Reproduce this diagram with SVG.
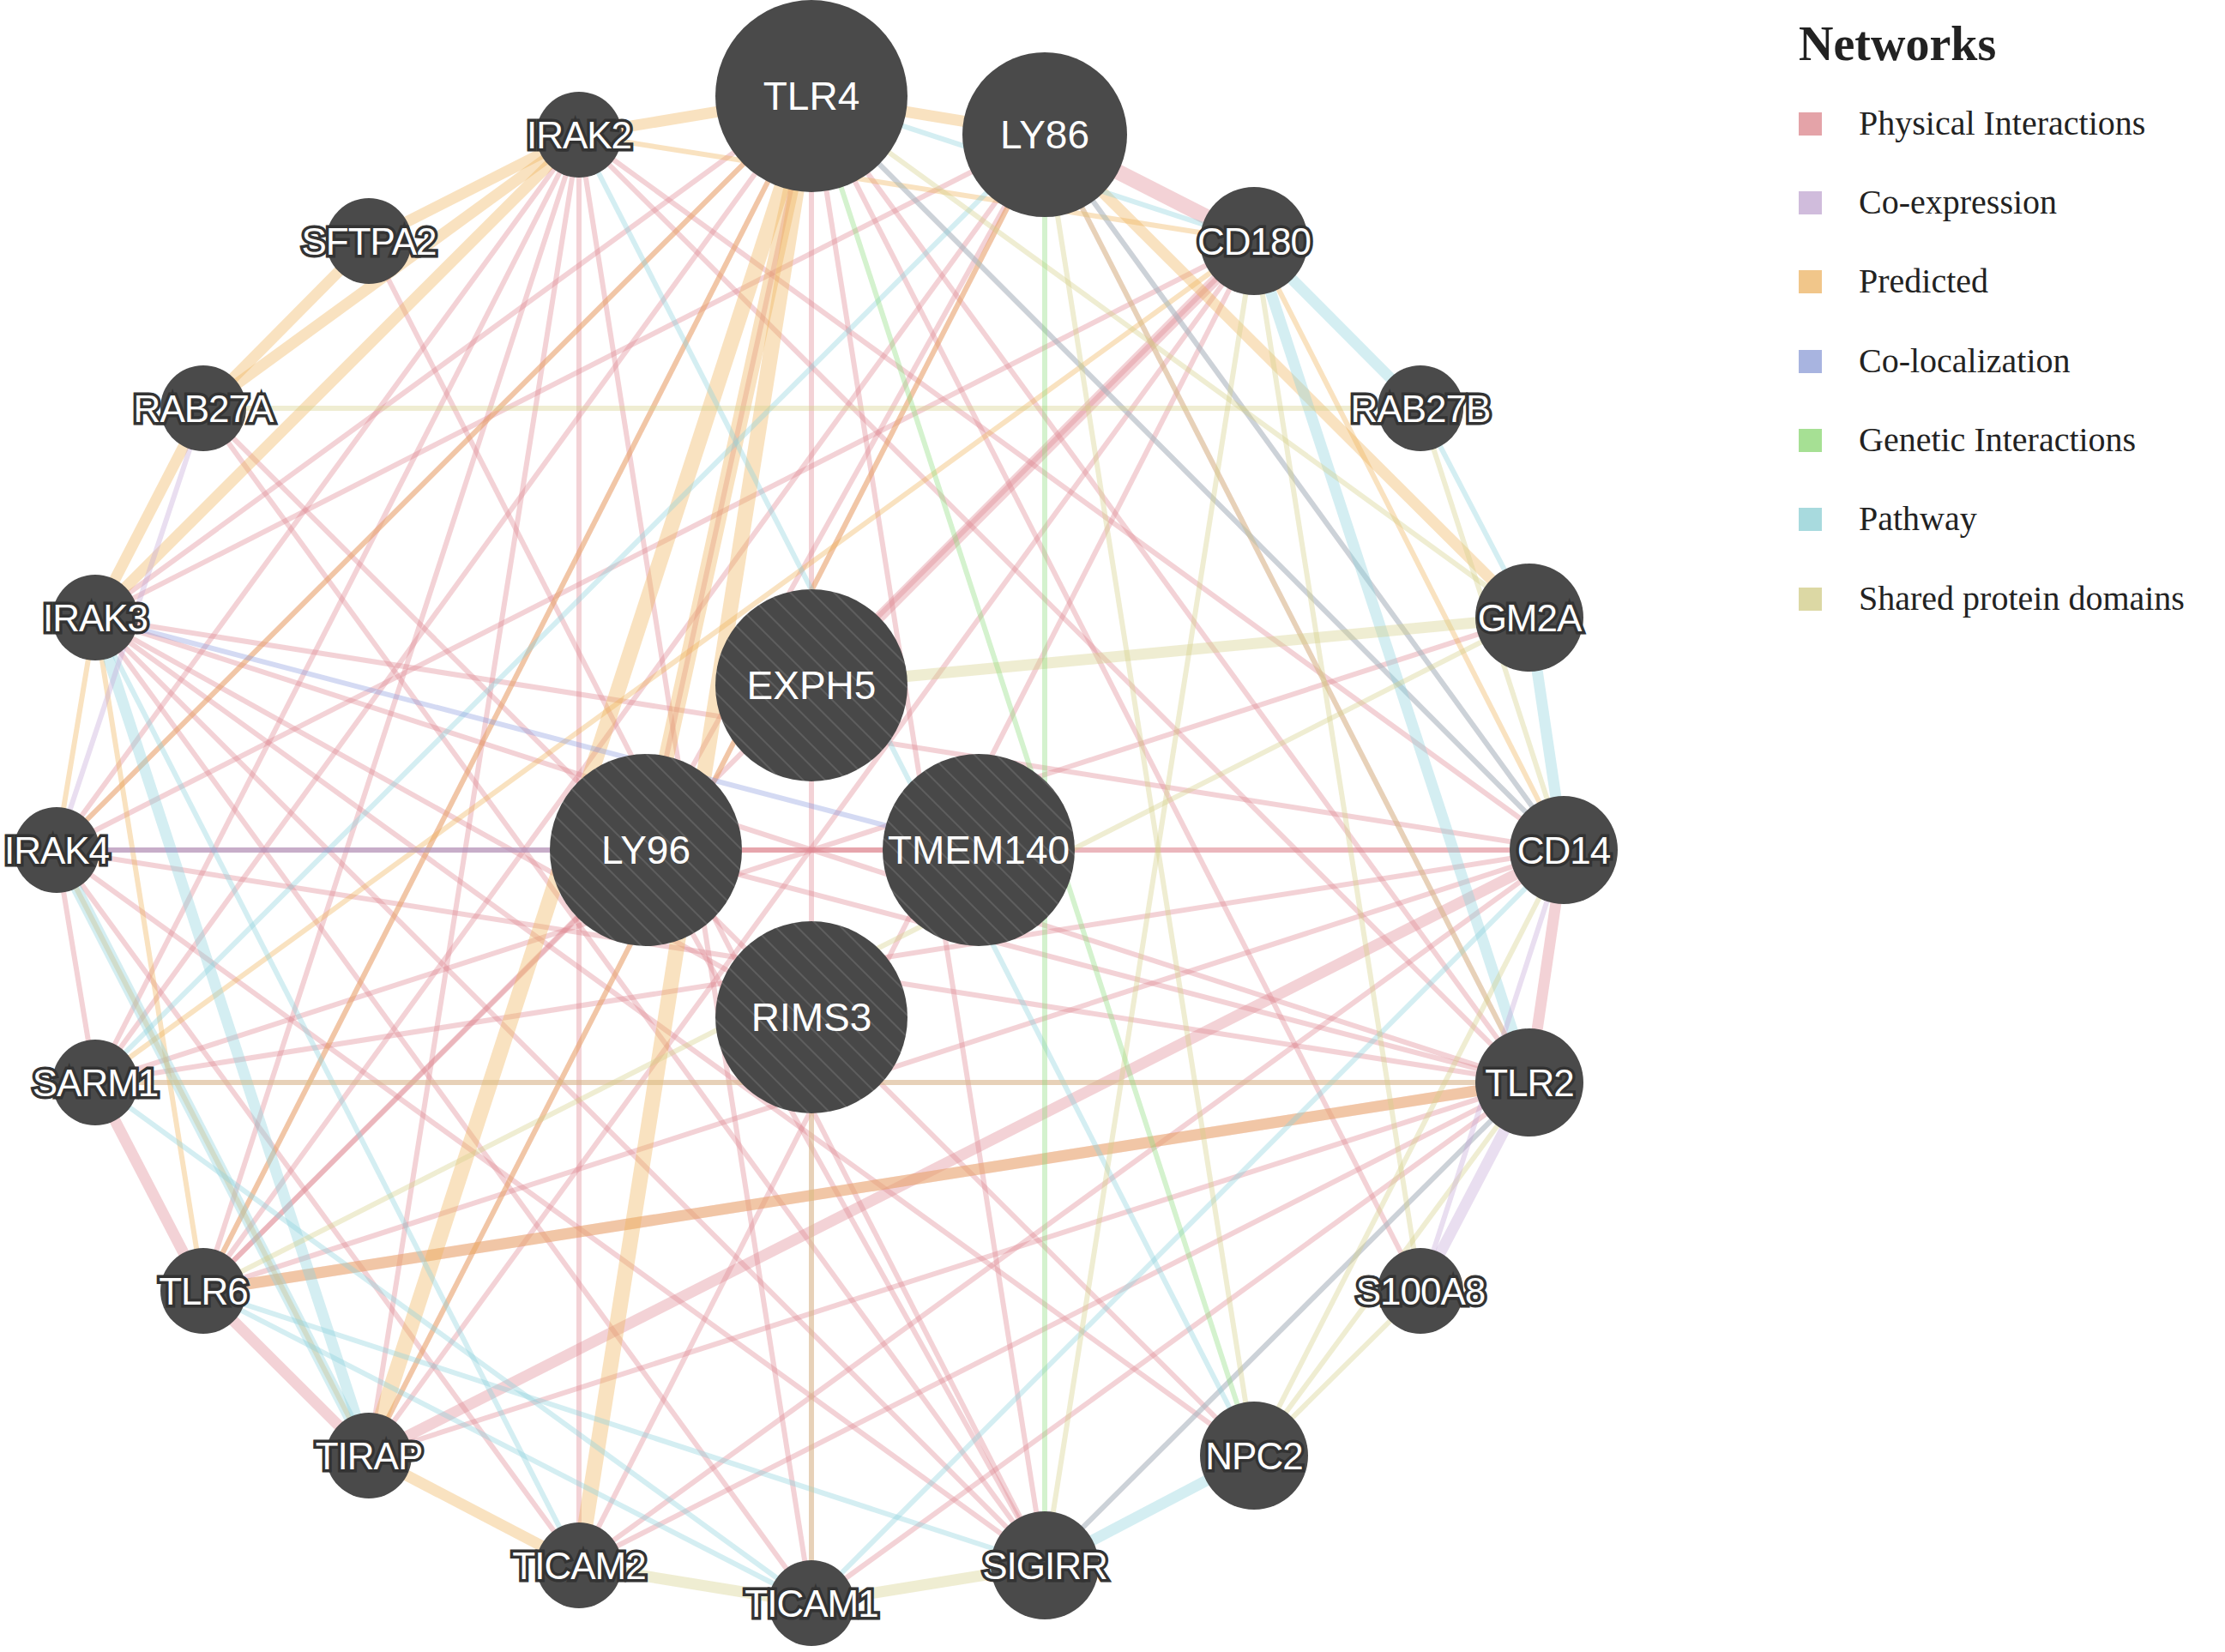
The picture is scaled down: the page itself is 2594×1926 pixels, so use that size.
<svg xmlns="http://www.w3.org/2000/svg" width="2594" height="1926" viewBox="0 0 2594 1926">
<defs>
<pattern id="hatch" width="18" height="18" patternUnits="userSpaceOnUse" patternTransform="rotate(-45)">
<rect width="18" height="18" fill="#484848"/>
<line x1="0" y1="0" x2="0" y2="18" stroke="#5e5e5e" stroke-width="4"/>
</pattern>
</defs>
<style>
.e line{stroke-opacity:0.38;stroke-width:6;fill:none}
.p{stroke:#e08a94}.r{stroke:#f0b45a}.w{stroke:#8fd2dc}.s{stroke:#d6d08a}.c{stroke:#c4a8d8}.g{stroke:#8edc7e}.l{stroke:#8e9ee0}
.t8{stroke-width:13 !important}.t12{stroke-width:18 !important}
.n circle{fill:#4a4a4a}
.n text{font-family:"Liberation Sans",Arial,sans-serif;font-size:44px;fill:#fff;stroke:#333;stroke-width:7;paint-order:stroke;text-anchor:middle;dominant-baseline:central;letter-spacing:-1px}
.n.big text{font-size:46px;stroke-width:0;letter-spacing:0}
.lg text{font-family:"Liberation Serif","Times New Roman",serif;font-size:40px;fill:#222}
</style>
<rect width="2594" height="1926" fill="#fff"/>
<g id="connectors" class="e">
<line class="r t8" x1="946" y1="112" x2="675" y2="157"/><line class="r t8" x1="675" y1="157" x2="430" y2="281"/><line class="r t8" x1="430" y1="281" x2="237" y2="476"/><line class="r t8" x1="237" y1="476" x2="111" y2="720"/><line class="r" x1="111" y1="720" x2="66" y2="991"/><line class="p" x1="66" y1="991" x2="111" y2="1262"/><line class="p t8" x1="111" y1="1262" x2="237" y2="1505"/><line class="p t8" x1="237" y1="1505" x2="430" y2="1697"/><line class="r t8" x1="430" y1="1697" x2="675" y2="1825"/><line class="s t8" x1="675" y1="1825" x2="946" y2="1869"/><line class="s t8" x1="946" y1="1869" x2="1218" y2="1825"/><line class="w t8" x1="1218" y1="1825" x2="1462" y2="1697"/><line class="s" x1="1462" y1="1697" x2="1656" y2="1505"/><line class="c t8" x1="1656" y1="1505" x2="1783" y2="1262"/><line class="p t8" x1="1783" y1="1262" x2="1823" y2="991"/><line class="w t8" x1="1823" y1="991" x2="1783" y2="720"/><line class="w" x1="1783" y1="720" x2="1656" y2="476"/><line class="w t8" x1="1656" y1="476" x2="1462" y2="281"/><line class="p t12" x1="1462" y1="281" x2="1218" y2="157"/><line class="r t8" x1="1218" y1="157" x2="946" y2="112"/>
<line class="p" x1="946" y1="112" x2="753" y2="991"/><line class="p" x1="946" y1="112" x2="1823" y2="991"/><line class="p" x1="946" y1="112" x2="1783" y2="1262"/><line class="p" x1="946" y1="112" x2="237" y2="1505"/><line class="p" x1="946" y1="112" x2="111" y2="720"/><line class="p" x1="946" y1="112" x2="66" y2="991"/><line class="p" x1="946" y1="112" x2="111" y2="1262"/><line class="p" x1="946" y1="112" x2="946" y2="1869"/><line class="p" x1="946" y1="112" x2="1218" y2="1825"/><line class="p" x1="946" y1="112" x2="1656" y2="1505"/>
<line class="p" x1="1218" y1="157" x2="753" y2="991"/><line class="p" x1="1218" y1="157" x2="1823" y2="991"/><line class="p" x1="1218" y1="157" x2="1783" y2="1262"/><line class="p" x1="1218" y1="157" x2="430" y2="1697"/><line class="p" x1="1218" y1="157" x2="111" y2="720"/><line class="p" x1="1218" y1="157" x2="237" y2="1505"/>
<line class="p" x1="675" y1="157" x2="66" y2="991"/><line class="p" x1="675" y1="157" x2="111" y2="1262"/><line class="p" x1="675" y1="157" x2="430" y2="1697"/><line class="p" x1="675" y1="157" x2="1783" y2="1262"/><line class="p" x1="675" y1="157" x2="1823" y2="991"/><line class="p" x1="675" y1="157" x2="675" y2="1825"/><line class="p" x1="675" y1="157" x2="946" y2="1869"/><line class="p" x1="675" y1="157" x2="237" y2="1505"/>
<line class="p" x1="111" y1="720" x2="1783" y2="1262"/><line class="p" x1="111" y1="720" x2="1823" y2="991"/><line class="p" x1="66" y1="991" x2="1783" y2="1262"/><line class="p" x1="66" y1="991" x2="1823" y2="991"/><line class="p" x1="66" y1="991" x2="675" y2="1825"/><line class="p" x1="66" y1="991" x2="1218" y2="1825"/>
<line class="p" x1="111" y1="1262" x2="1783" y2="1262"/><line class="p" x1="111" y1="1262" x2="1823" y2="991"/><line class="p t8" x1="237" y1="1505" x2="1783" y2="1262"/><line class="p" x1="237" y1="1505" x2="1823" y2="991"/><line class="p" x1="430" y1="1697" x2="1783" y2="1262"/><line class="p t8" x1="430" y1="1697" x2="1823" y2="991"/>
<line class="p" x1="675" y1="1825" x2="1783" y2="1262"/><line class="p" x1="946" y1="1869" x2="1783" y2="1262"/><line class="p" x1="1218" y1="1825" x2="1783" y2="1262"/><line class="p" x1="237" y1="476" x2="1218" y2="1825"/><line class="p" x1="237" y1="476" x2="1462" y2="1697"/><line class="p" x1="111" y1="720" x2="1462" y2="1697"/><line class="p" x1="111" y1="720" x2="946" y2="1869"/><line class="p" x1="111" y1="720" x2="1218" y2="1825"/>
<line class="p" x1="753" y1="991" x2="1783" y2="1262"/><line class="p" x1="753" y1="991" x2="1823" y2="991"/><line class="p" x1="753" y1="991" x2="237" y2="1505"/><line class="p" x1="430" y1="281" x2="1218" y2="1825"/><line class="p" x1="1462" y1="281" x2="237" y2="1505"/><line class="p" x1="1462" y1="281" x2="430" y2="1697"/><line class="p t8" x1="946" y1="799" x2="1462" y2="281"/><line class="p" x1="1141" y1="991" x2="66" y2="991"/><line class="p" x1="946" y1="1186" x2="111" y2="720"/><line class="p" x1="753" y1="991" x2="1218" y2="1825"/><line class="p" x1="1823" y1="991" x2="675" y2="1825"/><line class="p" x1="1462" y1="281" x2="675" y2="1825"/><line class="p" x1="1462" y1="281" x2="66" y2="991"/><line class="p" x1="1783" y1="720" x2="111" y2="1262"/>
<line class="r t12" x1="946" y1="112" x2="430" y2="1697"/><line class="r t12" x1="946" y1="112" x2="675" y2="1825"/><line class="r t8" x1="675" y1="157" x2="237" y2="476"/><line class="r t8" x1="675" y1="157" x2="111" y2="720"/><line class="r t8" x1="1218" y1="157" x2="1783" y2="720"/><line class="r" x1="111" y1="720" x2="237" y2="1505"/><line class="r" x1="66" y1="991" x2="430" y2="1697"/><line class="r t12" x1="946" y1="112" x2="753" y2="991"/><line class="r" x1="1462" y1="281" x2="1823" y2="991"/><line class="r t8" x1="237" y1="1505" x2="1783" y2="1262"/><line class="r" x1="111" y1="1262" x2="1462" y2="281"/><line class="r" x1="946" y1="112" x2="237" y2="1505"/><line class="r" x1="675" y1="157" x2="1462" y2="281"/><line class="r" x1="946" y1="112" x2="66" y2="991"/><line class="r" x1="1218" y1="157" x2="430" y2="1697"/>
<line class="w" x1="946" y1="112" x2="1462" y2="281"/><line class="w" x1="1218" y1="157" x2="1823" y2="991"/><line class="w" x1="111" y1="720" x2="675" y2="1825"/><line class="w t8" x1="66" y1="991" x2="430" y2="1697"/><line class="w" x1="111" y1="1262" x2="946" y2="1869"/><line class="w" x1="237" y1="1505" x2="946" y2="1869"/><line class="w t8" x1="1462" y1="281" x2="1783" y2="1262"/><line class="w" x1="1823" y1="991" x2="946" y2="1869"/><line class="w" x1="1783" y1="1262" x2="1218" y2="1825"/><line class="w" x1="675" y1="157" x2="1462" y2="1697"/><line class="w" x1="237" y1="1505" x2="1218" y2="1825"/><line class="w t8" x1="111" y1="720" x2="430" y2="1697"/><line class="w" x1="946" y1="112" x2="1823" y2="991"/><line class="w" x1="1218" y1="157" x2="111" y2="1262"/>
<line class="s" x1="946" y1="112" x2="1783" y2="720"/><line class="s" x1="1218" y1="157" x2="1783" y2="1262"/><line class="s" x1="1462" y1="281" x2="1656" y2="1505"/><line class="s" x1="1656" y1="476" x2="1823" y2="991"/><line class="s" x1="237" y1="476" x2="1656" y2="476"/><line class="s" x1="1783" y1="720" x2="237" y2="1505"/><line class="s" x1="1823" y1="991" x2="1462" y2="1697"/><line class="s" x1="1783" y1="1262" x2="1462" y2="1697"/><line class="s" x1="1462" y1="281" x2="1218" y2="1825"/><line class="s t8" x1="946" y1="799" x2="1783" y2="720"/><line class="s" x1="946" y1="1186" x2="946" y2="1869"/><line class="s" x1="1218" y1="157" x2="1462" y2="1697"/><line class="s" x1="111" y1="1262" x2="1783" y2="1262"/>
<line class="c" x1="237" y1="476" x2="66" y2="991"/><line class="c" x1="1823" y1="991" x2="1656" y2="1505"/>
<line class="g" x1="1218" y1="157" x2="1218" y2="1825"/><line class="g" x1="946" y1="112" x2="1462" y2="1697"/>
<line class="l" x1="111" y1="720" x2="1141" y2="991"/><line class="l" x1="66" y1="991" x2="753" y2="991"/>
</g>
<g id="n-TLR4" class="n big"><circle cx="946" cy="112" r="112"/><text x="946" y="112">TLR4</text></g>
<g id="n-LY86" class="n big"><circle cx="1218" cy="157" r="96"/><text x="1218" y="157">LY86</text></g>
<g id="n-IRAK2" class="n"><circle cx="675" cy="157" r="50"/><text x="675" y="157">IRAK2</text></g>
<g id="n-SFTPA2" class="n"><circle cx="430" cy="281" r="50"/><text x="430" y="281">SFTPA2</text></g>
<g id="n-CD180" class="n"><circle cx="1462" cy="281" r="63"/><text x="1462" y="281">CD180</text></g>
<g id="n-RAB27A" class="n"><circle cx="237" cy="476" r="50"/><text x="237" y="476">RAB27A</text></g>
<g id="n-RAB27B" class="n"><circle cx="1656" cy="476" r="50"/><text x="1656" y="476">RAB27B</text></g>
<g id="n-IRAK3" class="n"><circle cx="111" cy="720" r="50"/><text x="111" y="720">IRAK3</text></g>
<g id="n-GM2A" class="n"><circle cx="1783" cy="720" r="63"/><text x="1783" y="720">GM2A</text></g>
<g id="n-IRAK4" class="n"><circle cx="66" cy="991" r="50"/><text x="66" y="991">IRAK4</text></g>
<g id="n-CD14" class="n"><circle cx="1823" cy="991" r="63"/><text x="1823" y="991">CD14</text></g>
<g id="n-SARM1" class="n"><circle cx="111" cy="1262" r="50"/><text x="111" y="1262">SARM1</text></g>
<g id="n-TLR2" class="n"><circle cx="1783" cy="1262" r="63"/><text x="1783" y="1262">TLR2</text></g>
<g id="n-TLR6" class="n"><circle cx="237" cy="1505" r="50"/><text x="237" y="1505">TLR6</text></g>
<g id="n-S100A8" class="n"><circle cx="1656" cy="1505" r="50"/><text x="1656" y="1505">S100A8</text></g>
<g id="n-TIRAP" class="n"><circle cx="430" cy="1697" r="50"/><text x="430" y="1697">TIRAP</text></g>
<g id="n-NPC2" class="n"><circle cx="1462" cy="1697" r="63"/><text x="1462" y="1697">NPC2</text></g>
<g id="n-TICAM2" class="n"><circle cx="675" cy="1825" r="50"/><text x="675" y="1825">TICAM2</text></g>
<g id="n-SIGIRR" class="n"><circle cx="1218" cy="1825" r="63"/><text x="1218" y="1825">SIGIRR</text></g>
<g id="n-TICAM1" class="n"><circle cx="946" cy="1869" r="50"/><text x="946" y="1869">TICAM1</text></g>
<g id="n-EXPH5" class="n big"><circle cx="946" cy="799" r="112" style="fill:url(#hatch)"/><text x="946" y="799">EXPH5</text></g>
<g id="n-LY96" class="n big"><circle cx="753" cy="991" r="112" style="fill:url(#hatch)"/><text x="753" y="991">LY96</text></g>
<g id="n-TMEM140" class="n big"><circle cx="1141" cy="991" r="112" style="fill:url(#hatch)"/><text x="1141" y="991">TMEM140</text></g>
<g id="n-RIMS3" class="n big"><circle cx="946" cy="1186" r="112" style="fill:url(#hatch)"/><text x="946" y="1186">RIMS3</text></g>
<g id="legend" class="lg">
<text x="2097" y="70" style="font-size:56px;font-weight:bold">Networks</text>
<rect x="2097" y="131" width="27" height="27" fill="#e4a3a8"/><text x="2167" y="157">Physical Interactions</text>
<rect x="2097" y="223" width="27" height="27" fill="#d0bcdc"/><text x="2167" y="249">Co-expression</text>
<rect x="2097" y="315" width="27" height="27" fill="#f1c68a"/><text x="2167" y="341">Predicted</text>
<rect x="2097" y="408" width="27" height="27" fill="#a8b4e0"/><text x="2167" y="434">Co-localization</text>
<rect x="2097" y="500" width="27" height="27" fill="#a6e094"/><text x="2167" y="526">Genetic Interactions</text>
<rect x="2097" y="592" width="27" height="27" fill="#a8dade"/><text x="2167" y="618">Pathway</text>
<rect x="2097" y="685" width="27" height="27" fill="#dcd8a4"/><text x="2167" y="711">Shared protein domains</text>
</g>
</svg>
